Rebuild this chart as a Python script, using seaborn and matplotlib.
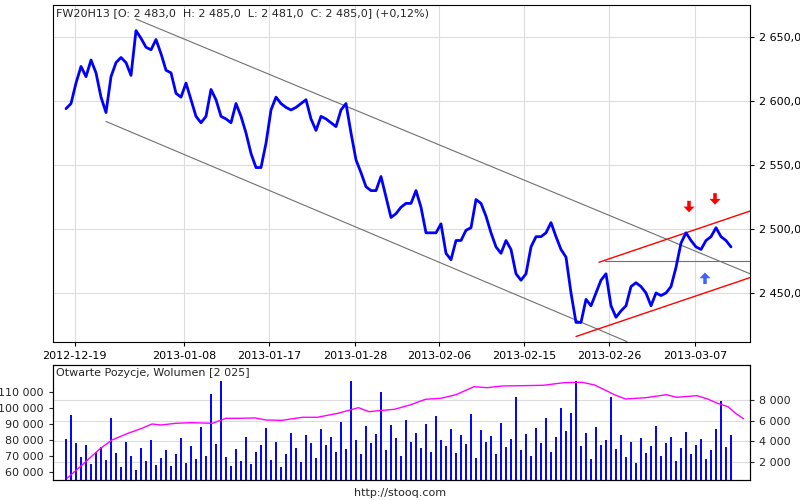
import numpy as np
import matplotlib
matplotlib.use("Agg")
import matplotlib.pyplot as plt
from matplotlib.ticker import FuncFormatter
import seaborn as sns

# close prices, one value per step
price = [2594, 2598, 2614, 2627, 2619, 2632, 2622, 2603, 2591, 2619,
         2630, 2634, 2630, 2620, 2655, 2649, 2642, 2640, 2648, 2637,
         2624, 2622, 2606, 2603, 2614, 2601, 2588, 2583, 2588, 2609,
         2601, 2588, 2586, 2583, 2598, 2588, 2575, 2559, 2548, 2548,
         2567, 2593, 2603, 2598, 2595, 2593, 2595, 2598, 2601, 2586,
         2577, 2588, 2586, 2583, 2580, 2593, 2598, 2575, 2554, 2544,
         2533, 2530, 2530, 2541, 2525, 2509, 2512, 2517,
         2520, 2520, 2530, 2517, 2497, 2497, 2497, 2504, 2481, 2476,
         2491, 2491, 2499, 2501, 2523, 2520, 2510, 2497, 2486, 2481,
         2491, 2484, 2465, 2460, 2465, 2486, 2494, 2494, 2497, 2505,
         2494, 2484, 2478, 2450, 2427, 2427, 2445, 2440, 2450, 2460,
         2465, 2440, 2431, 2436, 2440, 2455, 2458, 2455, 2450, 2440,
         2450, 2448, 2450, 2455, 2470, 2489, 2497, 2491, 2486, 2484,
         2491, 2494, 2501, 2494, 2491, 2486]
volume = [4200, 6500, 3800, 2500, 3600, 1800, 2900, 3400, 2200, 6200,
          2800, 1500, 3900, 2600, 1200, 3300, 2100, 4100, 1700, 2400,
          3100, 1600, 2700, 4300, 1900, 3500, 2300, 5400, 2600, 8600,
          3700, 9800, 2500, 1600, 3200, 2100, 4400, 1800, 2900, 3600,
          5300, 2200, 3900, 1500, 2700, 4800, 3300, 2000, 4600, 3800,
          2400, 5200, 3600, 4400, 2900, 5900, 3200, 9800, 4100, 2700,
          5500, 3800, 4700, 8800, 3100, 5600, 4300, 2600, 6100, 3900,
          4800, 3300, 5700, 2900, 6400, 4100, 3500, 5200, 2800, 4600,
          3700, 6600, 2400, 5100, 3900, 4500, 2700, 5800, 3400, 4200,
          8300, 3100, 4700, 2600, 5300, 3800, 6200, 2900, 4400, 7200,
          5000, 6700, 9800, 3500, 4800, 2300, 5400, 3600, 4100, 8300,
          3200, 4600, 2500, 3900, 1900, 4300, 2800, 3500, 5500, 2600,
          3800, 4400, 2100, 3300, 4900, 2700, 3600, 4200, 2300, 3100,
          5200, 7900, 3400, 4600]
# open interest, sampled at step positions
oi_pos = [0.2, 3.6, 6.9, 9.2, 12.4, 15.2, 17.2, 19.0, 22.0, 25.0, 29.3, 32.0,
          34.6, 37.8, 40.0, 43.2, 47.3, 50.3, 54.4, 58.5, 60.6, 62.6, 65.7, 68.8,
          71.9, 75.0, 78.0, 81.6, 84.2, 87.3, 91.4, 95.5, 99.6, 103.2, 105.7, 107.8,
          109.8, 111.9, 116.0, 120.1, 122.1, 126.2, 128.3, 130.3, 132.4, 133.9, 135.5]
oi = [55840, 65290, 74740, 79970, 84190, 87340, 90050, 89420, 90490, 90870, 90490, 93640,
      93640, 93850, 92570, 92360, 94270, 94270, 96790, 100320, 97800, 98430, 99310, 102020,
      105610, 106240, 108510, 113550, 112920, 113990, 114180, 114430, 116070, 116320, 114620, 111470,
      108320, 105800, 106620, 108510, 106870, 107880, 105800, 103090, 100950, 96790, 93390]
tick_pos = [1.7, 23.6, 40.6, 57.8, 74.6, 91.6, 108.6, 125.8]
tick_labels = ["2012-12-19", "2013-01-08", "2013-01-17", "2013-01-28",
               "2013-02-06", "2013-02-15", "2013-02-26", "2013-03-07"]
# drawn trend lines: (x0, y0, x1, y1)
gray_lines = [(14.0, 2664, 136.8, 2465), (8.0, 2584, 112.2, 2412), (107.8, 2475, 136.8, 2475)]
red_lines = [(106.6, 2474, 136.8, 2514), (102.0, 2416, 136.8, 2462)]
# signal arrows: (x, start, direction, colour)
arrows = [(124.6, 2522, -1, "red"), (129.8, 2528, -1, "red"), (127.8, 2457, 1, "#4060ff")]

sns.set_style("white")
plt.rcParams["font.family"] = ["DejaVu Sans"]
fig = plt.figure(figsize=(8, 5), dpi=100)
ax = fig.add_axes([53 / 800, 1 - 342 / 500, 697 / 800, 337 / 500])
axb = fig.add_axes([53 / 800, 1 - 480 / 500, 697 / 800, 115 / 500])
x = np.arange(len(price))
xlim = (-2.6, 136.8)

grid_kw = dict(color="#dddddd", lw=0.8)
for t in tick_pos:
    ax.axvline(t, zorder=0, **grid_kw)
for p in [2450, 2500, 2550, 2600, 2650]:
    ax.axhline(p, zorder=0, **grid_kw)
for x0, y0, x1, y1 in gray_lines:
    ax.plot([x0, x1], [y0, y1], color="#707070", lw=0.8, zorder=1)
for x0, y0, x1, y1 in red_lines:
    ax.plot([x0, x1], [y0, y1], color="red", lw=1.0, zorder=1)
sns.lineplot(x=x, y=price, ax=ax, color="#0000ff", lw=2.0, zorder=2)
for xa, ya, d, c in arrows:
    ax.arrow(xa, ya, 0, d * 9, width=0.7, head_width=2.2, head_length=4.5,
             length_includes_head=True, color=c, lw=0, zorder=3)
ax.set_xlim(*xlim)
ax.set_ylim(2411.7, 2675)
ax.yaxis.tick_right()
ax.set_yticks([2450, 2500, 2550, 2600, 2650])
ax.yaxis.set_major_formatter(FuncFormatter(lambda v, _: f"{v:,.1f}".replace(",", " ").replace(".", ",")))
ax.set_xticks(tick_pos)
ax.set_xticklabels(tick_labels)
ax.tick_params(labelsize=8, length=3, direction="out", colors="black")
ax.tick_params(axis="both", which="major", bottom=True, right=True)
for s in ax.spines.values():
    s.set_color("black")
ax.text(0.005, 0.99, "FW20H13 [O: 2 483,0  H: 2 485,0  L: 2 481,0  C: 2 485,0] (+0,12%)",
        transform=ax.transAxes, ha="left", va="top", fontsize=8)

axv = axb.twinx()
axv.vlines(x, 0, volume, color="#0000ff", lw=1.4)
axv.set_ylim(220, 11400)
axv.set_yticks([2000, 4000, 6000, 8000])
axv.yaxis.set_major_formatter(FuncFormatter(lambda v, _: f"{v:,.0f}".replace(",", " ")))
axv.grid(axis="y", **grid_kw)
axv.set_axisbelow(True)
axv.tick_params(labelsize=8, length=3)
sns.lineplot(x=oi_pos, y=oi, ax=axb, color="#ff00ff", lw=1.0)
axb.set_zorder(axv.get_zorder() + 1)
axb.patch.set_visible(False)
axb.set_xlim(*xlim)
axv.set_xlim(*xlim)
axb.set_ylim(54770, 127200)
axb.set_yticks([60000, 70000, 80000, 90000, 100000, 110000])
axb.yaxis.set_major_formatter(FuncFormatter(lambda v, _: f"{v:,.0f}".replace(",", " ")))
axb.set_xticks([])
axb.tick_params(labelsize=8, length=0)
axb.tick_params(axis="y", left=True, length=3)
for a in (axb, axv):
    for s in a.spines.values():
        s.set_color("black")
axb.text(0.005, 0.97, "Otwarte Pozycje, Wolumen [2 025]", transform=axb.transAxes,
         ha="left", va="top", fontsize=8, bbox=dict(facecolor="white", edgecolor="none", pad=1))
fig.text(0.5, 1 - 493 / 500, "http://stooq.com", ha="center", va="center", fontsize=8)
fig.savefig("out.png", dpi=100)
